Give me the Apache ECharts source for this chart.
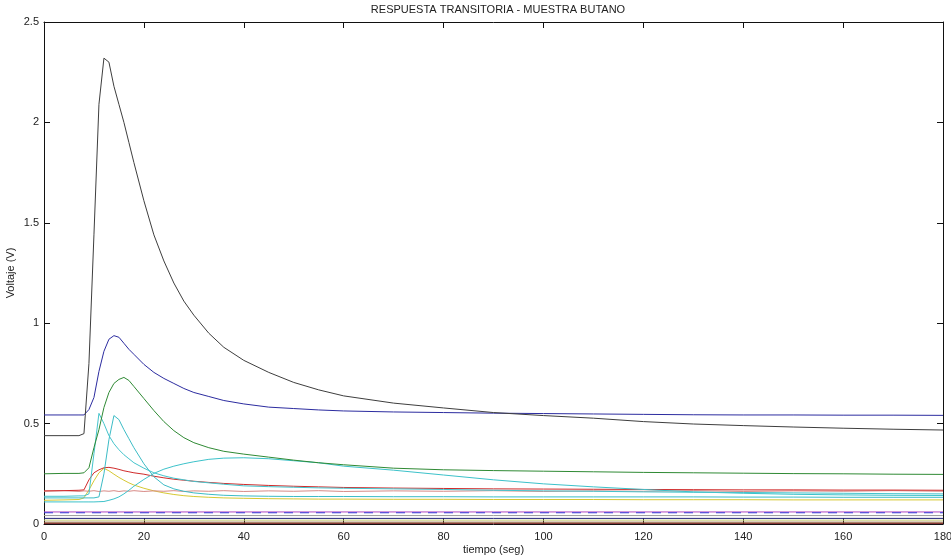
<!DOCTYPE html>
<html>
<head>
<meta charset="utf-8">
<script src="https://cdn.jsdelivr.net/npm/echarts@6/dist/echarts.min.js"></script>
<style>
  html, body { margin: 0; padding: 0; background: #fff; }
  #chart { width: 951px; height: 558px; }
</style>
</head>
<body>
<div id="chart"></div>
<script>
// Sample times (s)
const tiempo = [0, 4, 7, 8, 9, 10, 11, 12, 13, 14, 15, 16, 17, 18, 20, 22, 24, 26, 28, 30, 33, 36, 40, 45, 50, 55, 60, 70, 80, 90, 100, 110, 120, 130, 140, 150, 160, 170, 180];

// Sensor responses (V)
const sensorNegro = [0.44, 0.44, 0.44, 0.45, 0.80, 1.44, 2.09, 2.32, 2.30, 2.18, 2.09, 2.00, 1.90, 1.80, 1.61, 1.44, 1.31, 1.20, 1.11, 1.04, 0.95, 0.88, 0.815, 0.755, 0.705, 0.668, 0.638, 0.602, 0.578, 0.555, 0.54, 0.527, 0.51, 0.498, 0.49, 0.483, 0.477, 0.472, 0.468];
const sensorAzul = [0.543, 0.543, 0.543, 0.543, 0.57, 0.63, 0.76, 0.86, 0.92, 0.938, 0.93, 0.90, 0.87, 0.845, 0.795, 0.755, 0.725, 0.70, 0.675, 0.655, 0.635, 0.615, 0.598, 0.582, 0.575, 0.568, 0.563, 0.558, 0.555, 0.552, 0.55, 0.548, 0.546, 0.544, 0.543, 0.543, 0.542, 0.542, 0.541];
const sensorVerde = [0.25, 0.252, 0.252, 0.255, 0.28, 0.38, 0.47, 0.58, 0.655, 0.70, 0.72, 0.73, 0.715, 0.685, 0.625, 0.565, 0.51, 0.465, 0.43, 0.405, 0.38, 0.362, 0.348, 0.333, 0.318, 0.305, 0.295, 0.278, 0.27, 0.266, 0.263, 0.26, 0.257, 0.255, 0.253, 0.251, 0.25, 0.248, 0.247];
const sensorCianA = [0.138, 0.138, 0.14, 0.14, 0.15, 0.35, 0.551, 0.50, 0.44, 0.40, 0.37, 0.345, 0.325, 0.305, 0.278, 0.255, 0.24, 0.228, 0.22, 0.212, 0.205, 0.198, 0.19, 0.186, 0.183, 0.18, 0.178, 0.175, 0.172, 0.168, 0.165, 0.163, 0.16, 0.158, 0.157, 0.155, 0.153, 0.151, 0.15];
const sensorCianB = [0.13, 0.13, 0.13, 0.13, 0.13, 0.13, 0.135, 0.25, 0.42, 0.54, 0.52, 0.47, 0.425, 0.38, 0.30, 0.235, 0.195, 0.175, 0.163, 0.155, 0.148, 0.143, 0.14, 0.138, 0.137, 0.137, 0.137, 0.136, 0.136, 0.135, 0.135, 0.135, 0.135, 0.135, 0.134, 0.134, 0.133, 0.133, 0.133];
const sensorCianC = [0.11, 0.11, 0.11, 0.11, 0.11, 0.11, 0.111, 0.112, 0.118, 0.125, 0.135, 0.15, 0.168, 0.188, 0.222, 0.252, 0.273, 0.288, 0.30, 0.31, 0.322, 0.328, 0.33, 0.325, 0.315, 0.305, 0.288, 0.268, 0.244, 0.22, 0.20, 0.185, 0.172, 0.16, 0.153, 0.148, 0.145, 0.143, 0.142];
const sensorRojo = [0.165, 0.166, 0.168, 0.17, 0.22, 0.255, 0.27, 0.28, 0.282, 0.278, 0.272, 0.265, 0.26, 0.255, 0.248, 0.238, 0.23, 0.223, 0.218, 0.213, 0.207, 0.202, 0.197, 0.192, 0.188, 0.185, 0.182, 0.179, 0.177, 0.175, 0.174, 0.173, 0.172, 0.171, 0.17, 0.17, 0.169, 0.169, 0.168];
const sensorRosa = [0.163, 0.166, 0.162, 0.165, 0.163, 0.166, 0.162, 0.165, 0.163, 0.166, 0.162, 0.165, 0.163, 0.166, 0.162, 0.165, 0.163, 0.166, 0.162, 0.165, 0.163, 0.166, 0.162, 0.165, 0.163, 0.166, 0.162, 0.165, 0.163, 0.166, 0.162, 0.165, 0.163, 0.166, 0.162, 0.165, 0.163, 0.166, 0.163];
const sensorAmarillo = [0.118, 0.12, 0.122, 0.13, 0.17, 0.215, 0.255, 0.277, 0.265, 0.248, 0.232, 0.218, 0.205, 0.194, 0.178, 0.165, 0.155, 0.147, 0.141, 0.137, 0.133, 0.13, 0.128, 0.126, 0.125, 0.124, 0.124, 0.123, 0.123, 0.122, 0.122, 0.122, 0.121, 0.121, 0.121, 0.12, 0.12, 0.12, 0.12];

// Near-zero baselines of the inactive sensors (V)
const sensorMagenta = [0.06, 0.06];
const sensorAzulRuido = [0.056, 0.056];
const sensorGris = [0.042, 0.042];
const sensorMarino = [0.028, 0.028];
const sensorOliva = [0.019, 0.019];
const sensorMarron = [0.009, 0.009];
const sensorGranate = [0.003, 0.003];
const tiempoExtremos = [0, 180];

// Axis ticks
const ticksX = [0, 20, 40, 60, 80, 100, 120, 140, 160, 180];
const ticksY = [0, 0.5, 1, 1.5, 2, 2.5];

const font = "'Liberation Sans', Arial, Helvetica, sans-serif";

function pares(ts, vs) {
  return ts.map((t, i) => [t, vs[i]]);
}

function serie(nombre, ts, vs, color, tipo) {
  return {
    name: nombre,
    type: 'line',
    data: pares(ts, vs),
    showSymbol: false,
    symbol: 'none',
    smooth: false,
    lineStyle: { color: color, width: 1, type: tipo || 'solid' },
    emphasis: { disabled: true },
    z: 2
  };
}

const series = [
  serie('s16', tiempoExtremos, sensorGranate, '#7a1e1e'),
  serie('s15', tiempoExtremos, sensorMarron, '#8a5a30'),
  serie('s14', tiempoExtremos, sensorOliva, '#c9cf78'),
  serie('s13', tiempoExtremos, sensorMarino, '#22227a'),
  serie('s12', tiempoExtremos, sensorGris, '#9a9a9a'),
  serie('s10', tiempoExtremos, sensorMagenta, '#b048c0'),
  serie('s11', tiempoExtremos, sensorAzulRuido, '#3434d8', [9, 7]),
  serie('s9', tiempo, sensorAmarillo, '#d6c832'),
  serie('s8', tiempo, sensorRosa, '#d88a86'),
  serie('s7', tiempo, sensorRojo, '#d02a2a'),
  serie('s6', tiempo, sensorCianC, '#3cc2ca'),
  serie('s5', tiempo, sensorCianB, '#3cbcc6'),
  serie('s4', tiempo, sensorCianA, '#44c4cc'),
  serie('s3', tiempo, sensorVerde, '#2f8a34'),
  serie('s2', tiempo, sensorAzul, '#2c2ca0'),
  serie('s1', tiempo, sensorNegro, '#3e3e3e')
];

const ejeComun = {
  axisLine: { show: true, onZero: false, lineStyle: { color: '#111', width: 1 } },
  axisTick: { show: true, inside: true, length: 6, lineStyle: { color: '#111', width: 1 } },
  splitLine: { show: false },
  minorTick: { show: false }
};

const chart = echarts.init(document.getElementById('chart'), null, { renderer: 'canvas' });
chart.setOption({
  animation: false,
  backgroundColor: '#ffffff',
  title: {
    text: 'RESPUESTA TRANSITORIA - MUESTRA BUTANO',
    left: 493,
    textAlign: 'center',
    top: -1,
    textStyle: { fontFamily: font, fontSize: 11, fontWeight: 'normal', color: '#222' }
  },
  grid: { left: 44, right: 8, top: 22, bottom: 34, containLabel: false, outerBoundsMode: 'none' },
  xAxis: [
    Object.assign({}, ejeComun, {
      type: 'value', position: 'bottom', min: ticksX[0], max: ticksX[ticksX.length - 1], interval: 20,
      name: 'tiempo (seg)', nameLocation: 'middle', nameGap: 20, nameMoveOverlap: false,
      nameTextStyle: { fontFamily: font, fontSize: 11, color: '#222' },
      axisLabel: { show: true, margin: 7, fontFamily: font, fontSize: 11, color: '#222',
        formatter: v => ticksX.includes(v) ? String(v) : '' }
    }),
    Object.assign({}, ejeComun, {
      type: 'value', position: 'top', min: ticksX[0], max: ticksX[ticksX.length - 1], interval: 20,
      axisLabel: { show: false }
    })
  ],
  yAxis: [
    Object.assign({}, ejeComun, {
      type: 'value', position: 'left', min: ticksY[0], max: ticksY[ticksY.length - 1], interval: 0.5,
      name: 'Voltaje (V)', nameLocation: 'middle', nameGap: 28, nameRotate: 90, nameMoveOverlap: false,
      nameTextStyle: { fontFamily: font, fontSize: 11, color: '#222' },
      axisLabel: { show: true, margin: 5, fontFamily: font, fontSize: 11, color: '#222',
        formatter: v => ticksY.includes(v) ? String(v) : '' }
    }),
    Object.assign({}, ejeComun, {
      type: 'value', position: 'right', min: ticksY[0], max: ticksY[ticksY.length - 1], interval: 0.5,
      axisLabel: { show: false }
    })
  ],
  series: series
});
</script>
</body>
</html>
